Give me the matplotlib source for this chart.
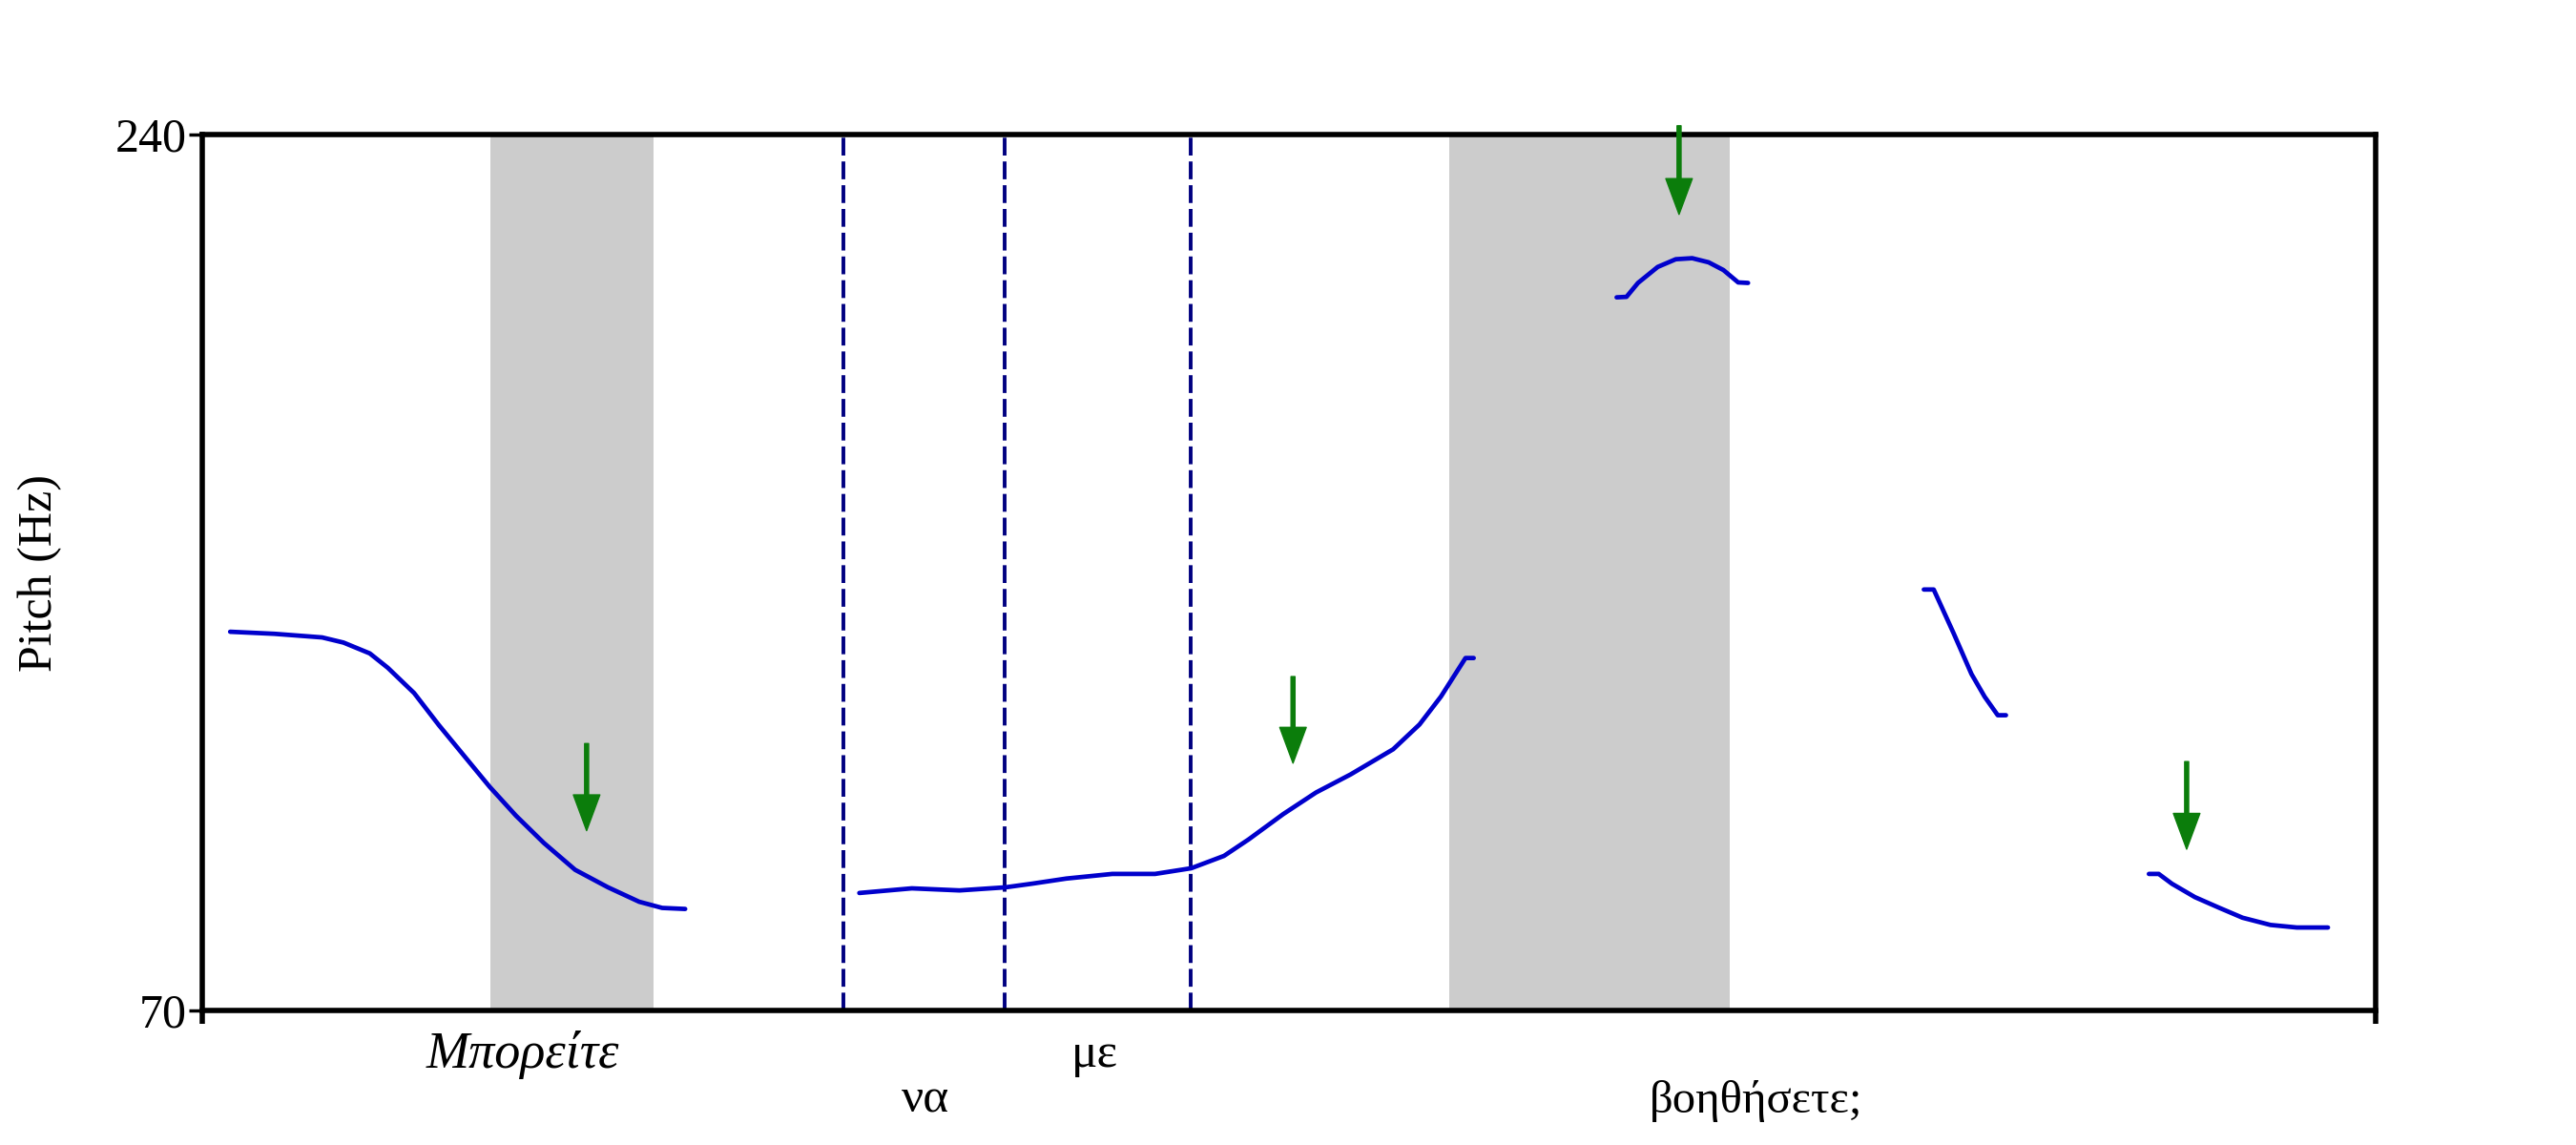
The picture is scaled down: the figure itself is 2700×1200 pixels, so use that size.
import matplotlib
matplotlib.use('Agg')
import matplotlib.pyplot as plt

plt.rcParams['font.family'] = ['Liberation Serif', 'DejaVu Serif']

# pitch track segments: time (s), pitch (Hz)
t1 = [0.017, 0.044, 0.073, 0.086, 0.102, 0.113, 0.129, 0.144, 0.160, 0.175,
      0.191, 0.208, 0.227, 0.247, 0.266, 0.280, 0.294]
f1 = [143.5, 143.1, 142.4, 141.4, 139.3, 136.5, 131.6, 125.4, 119.2, 113.4,
      107.8, 102.5, 97.3, 93.9, 91.1, 89.9, 89.7]

t2 = [0.400, 0.432, 0.461, 0.489, 0.505, 0.526, 0.554, 0.580, 0.602, 0.622,
      0.637, 0.658, 0.678, 0.699, 0.725, 0.741, 0.754, 0.769, 0.774]
f2 = [92.8, 93.7, 93.3, 93.9, 94.6, 95.6, 96.5, 96.5, 97.6, 100.0,
      103.2, 108.1, 112.3, 115.8, 120.7, 125.5, 130.9, 138.4, 138.4]

t3 = [0.861, 0.867, 0.874, 0.886, 0.897, 0.907, 0.917, 0.926, 0.935, 0.941]
f3 = [208.4, 208.5, 211.2, 214.3, 215.8, 216.0, 215.2, 213.7, 211.3, 211.2]

t4 = [1.048, 1.054, 1.066, 1.077, 1.085, 1.093, 1.098]
f4 = [151.7, 151.7, 143.3, 135.3, 130.9, 127.3, 127.3]

t5 = [1.185, 1.191, 1.199, 1.213, 1.228, 1.242, 1.259, 1.275, 1.294]
f5 = [96.5, 96.5, 94.6, 92.0, 89.9, 88.0, 86.6, 86.1, 86.1]

segments = [(t1, f1), (t2, f2), (t3, f3), (t4, f4), (t5, f5)]

# shaded (stressed) syllables
shade_start = [0.1755, 0.759]
shade_end = [0.2748, 0.930]

# word boundaries (dashed)
boundaries = [0.3905, 0.4886, 0.6018]

# arrows: time, tail Hz, tip Hz
arrow_t = [0.234, 0.664, 0.899, 1.208]
arrow_from = [121.8, 134.8, 241.7, 118.3]
arrow_to = [104.9, 118.0, 224.5, 101.3]

# words under the axis: text, time, row (0 upper, 1 lower), italic
words = ['Μπορείτε', 'να', 'με', 'βοηθήσετε;']
word_t = [0.1950, 0.440, 0.5435, 0.946]
word_row = [0, 1, 0, 1]
word_italic = [True, False, False, False]
word_size = [39, 37, 37, 35]

t_max = 1.323
y_min, y_max = 70, 240

fig = plt.figure(figsize=(27, 12), dpi=100)
ax = fig.add_axes([0.0785, 0.1175, 0.8437, 0.765])

for s, e in zip(shade_start, shade_end):
    ax.axvspan(s, e, color='#cccccc', lw=0, zorder=0)

for b in boundaries:
    ax.axvline(b, color='#000080', lw=2.8, linestyle=(0, (4.8, 1.6)), zorder=1)

for t, f in segments:
    ax.plot(t, f, color='#0000cc', lw=3.4, zorder=3,
            solid_joinstyle='round', solid_capstyle='round')

for x, a, b in zip(arrow_t, arrow_from, arrow_to):
    ax.annotate('', xy=(x, b), xytext=(x, a), annotation_clip=False,
                arrowprops=dict(width=3, headwidth=20, headlength=27,
                                color='#0b7d0b', shrink=0), zorder=5)

row_y = [-0.051, -0.103]
for w, x, r, it, fs in zip(words, word_t, word_row, word_italic, word_size):
    ax.text(x, row_y[r], w, transform=ax.get_xaxis_transform(),
            ha='center', va='center', fontsize=fs,
            style='italic' if it else 'normal')

ax.set_xlim(0, t_max)
ax.set_ylim(y_min, y_max)
ax.set_yticks([y_min, y_max])
ax.set_yticklabels([str(y_min), str(y_max)], fontsize=36)
ax.set_xticks([0, t_max])
ax.set_xticklabels([])
ax.tick_params(axis='y', direction='out', length=10, width=2.5, pad=2)
ax.tick_params(axis='x', direction='out', length=10, width=4)
for sp in ax.spines.values():
    sp.set_linewidth(4)

ax.set_ylabel('Pitch (Hz)', fontsize=36)
ax.yaxis.set_label_coords(-0.0645, 0.5)

fig.savefig('out.png', dpi=100)
